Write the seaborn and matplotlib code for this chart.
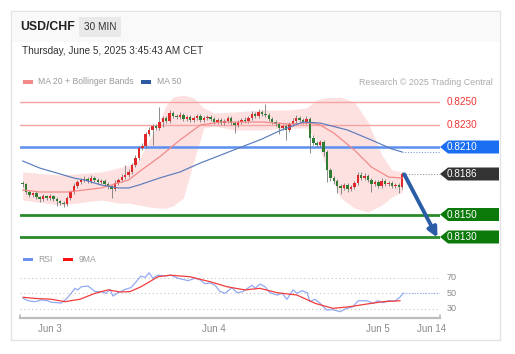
import numpy as np
import pandas as pd
import matplotlib
matplotlib.use("Agg")
import matplotlib.pyplot as plt
import seaborn as sns
from matplotlib.patches import Rectangle, Polygon
from matplotlib import transforms

# ---------------- data ----------------
first_open = 0.81780
closes = [
    0.81771, 0.81700, 0.81673, 0.81691, 0.81656, 0.81638, 0.81664, 0.81647, 0.81664, 0.81638,
    0.81620, 0.81602, 0.81593, 0.81647, 0.81700, 0.81753, 0.81789, 0.81807, 0.81816, 0.81798,
    0.81824, 0.81807, 0.81789, 0.81798, 0.81771, 0.81753, 0.81727, 0.81780, 0.81807, 0.81833,
    0.81851, 0.81878, 0.81940, 0.82002, 0.82091, 0.82109, 0.82216, 0.82251, 0.82287, 0.82269,
    0.82322, 0.82358, 0.82331, 0.82402, 0.82376, 0.82367, 0.82384, 0.82349, 0.82367, 0.82340,
    0.82358, 0.82376, 0.82340, 0.82358, 0.82367, 0.82349, 0.82322, 0.82340, 0.82313, 0.82331,
    0.82358, 0.82313, 0.82296, 0.82322, 0.82340, 0.82331, 0.82358, 0.82393, 0.82376, 0.82411,
    0.82393, 0.82384, 0.82349, 0.82322, 0.82304, 0.82269, 0.82287, 0.82251, 0.82304, 0.82331,
    0.82358, 0.82340, 0.82322, 0.82349, 0.82180, 0.82136, 0.82118, 0.82144, 0.82056, 0.81896,
    0.81824, 0.81798, 0.81753, 0.81736, 0.81762, 0.81727, 0.81744, 0.81780, 0.81851, 0.81824,
    0.81842, 0.81807, 0.81771, 0.81789, 0.81753, 0.81798, 0.81771, 0.81780, 0.81753, 0.81762,
    0.81744, 0.81860,
]
upper_wick_pips = [
    2, 1, 2, 1, 2, 1, 2, 1, 2, 1,
    2, 1, 2, 2, 2, 3, 2, 2, 3, 2,
    3, 2, 2, 2, 2, 2, 1, 3, 2, 3,
    9, 3, 2, 3, 2, 3, 2, 3, 2, 2,
    13, 2, 2, 3, 2, 2, 3, 2, 2, 2,
    2, 2, 2, 2, 2, 2, 2, 2, 2, 2,
    2, 2, 2, 2, 2, 3, 2, 3, 2, 3,
    2, 9, 2, 2, 2, 2, 2, 2, 2, 3,
    3, 2, 2, 3, 2, 3, 2, 2, 2, 2,
    2, 2, 2, 2, 2, 2, 2, 2, 3, 3,
    3, 2, 2, 2, 2, 3, 2, 2, 2, 2,
    2, 2,
]
lower_wick_pips = [
    3, 2, 2, 2, 2, 3, 2, 2, 2, 2,
    4, 2, 3, 2, 2, 2, 2, 2, 2, 2,
    2, 2, 2, 2, 2, 3, 8, 2, 2, 2,
    2, 2, 2, 2, 2, 2, 2, 2, 13, 2,
    2, 4, 2, 2, 2, 2, 2, 2, 2, 2,
    2, 2, 2, 2, 2, 2, 2, 2, 2, 2,
    2, 2, 7, 2, 2, 2, 2, 2, 2, 2,
    2, 2, 2, 2, 2, 5, 2, 9, 2, 2,
    2, 2, 2, 2, 13, 2, 2, 2, 4, 11,
    3, 3, 6, 5, 2, 3, 2, 2, 2, 2,
    2, 2, 7, 2, 2, 2, 2, 2, 2, 2,
    5, 2,
]

ma20_x = [0, 5, 13, 23, 31, 34, 40, 46, 52, 58, 70, 78, 84, 87, 91, 97, 102, 107, 111]
ma20_v = [0.81718, 0.81700, 0.81700, 0.81736, 0.81807, 0.81878, 0.82011, 0.82162, 0.82296,
          0.82322, 0.82322, 0.82304, 0.82313, 0.82296, 0.82224, 0.82073, 0.81922, 0.81833, 0.81824]

ma50_x = [0, 5, 11, 15, 18, 23, 28, 31, 34, 40, 46, 52, 58, 64, 70, 75, 82, 87, 95, 102, 108, 111]
ma50_v = [0.81976, 0.81913, 0.81860, 0.81824, 0.81807, 0.81762, 0.81736, 0.81736, 0.81762,
          0.81824, 0.81878, 0.81958, 0.82029, 0.82100, 0.82171, 0.82242, 0.82322, 0.82313,
          0.82251, 0.82162, 0.82082, 0.82056]

bb_x = [0, 11, 23, 28, 31, 34, 37, 40, 42, 44, 47, 50, 53, 56, 62, 70, 78, 83, 86, 88,
        93, 97, 101, 105, 108, 111]
bb_upper = [0.81878, 0.81851, 0.81878, 0.81913, 0.81940, 0.81984, 0.82162, 0.82322, 0.82473,
            0.82544, 0.82562, 0.82536, 0.82447, 0.82402, 0.82411, 0.82429, 0.82429, 0.82447,
            0.82518, 0.82536, 0.82544, 0.82500, 0.82322, 0.82029, 0.81896, 0.81878]
bb_lower = [0.81629, 0.81584, 0.81629, 0.81602, 0.81602, 0.81584, 0.81567, 0.81558, 0.81558,
            0.81576, 0.81647, 0.81967, 0.82269, 0.82287, 0.82251, 0.82251, 0.82269, 0.82269,
            0.82162, 0.81984, 0.81647, 0.81558, 0.81522, 0.81584, 0.81656, 0.81700]

rsi_x = [0.1, 1.6, 3.6, 5.4, 7.4, 8.3, 10.4, 11.2, 12.7, 14.2, 15.3, 16.2, 17.1, 19.1, 20.0,
         21.2, 22.9, 24.4, 25.6, 26.4, 27.9, 30.0, 31.7, 33.2, 34.6, 35.8, 37.0, 38.1, 39.6,
         41.6, 43.4, 45.4, 48.4, 50.4, 51.9, 53.3, 54.8, 56.3, 57.7, 59.2, 61.2, 62.7, 64.4,
         67.1, 68.0, 69.4, 70.9, 72.3, 74.4, 75.9, 77.3, 79.1, 80.2, 81.7, 83.2, 84.0, 85.5,
         87.0, 88.9, 90.7, 92.8, 94.8, 96.6, 98.1, 100.7, 102.5, 103.9, 105.4, 106.9, 108.9,
         110.4, 111.3]
rsi_v = [43.2, 40.0, 38.8, 41.0, 40.0, 38.0, 37.5, 36.7, 41.9, 49.6, 56.0, 54.0, 58.0, 59.0, 56.0,
         51.7, 52.0, 49.6, 54.7, 46.0, 50.4, 54.7, 57.0, 64.6, 72.0, 70.0, 76.0, 69.0, 73.0,
         72.0, 73.0, 69.0, 66.0, 69.0, 67.0, 62.0, 63.0, 60.0, 52.0, 49.6, 57.0, 50.4, 51.7,
         60.0, 56.0, 61.6, 58.0, 50.4, 47.4, 49.6, 41.9, 54.0, 49.6, 53.0, 50.4, 38.8, 41.9,
         36.7, 28.0, 28.5, 25.9, 30.2, 32.3, 40.0, 40.0, 36.7, 40.0, 37.5, 40.0, 39.5,
         45.0, 50.0]

rsi_ma_x = [0.1, 3.6, 8.3, 12.4, 16.8, 21.2, 25.0, 28.5, 31.4, 34.6, 39.6, 43.1, 48.9, 54.8,
            59.8, 65.0, 69.4, 74.4, 80.2, 85.5, 90.7, 95.7, 100.7, 105.4, 110.4]
rsi_ma_v = [44.5, 43.0, 42.0, 38.8, 42.0, 49.6, 54.0, 51.3, 51.8, 58.0, 71.0, 73.0, 71.0, 64.6,
            58.0, 54.0, 56.0, 50.4, 47.4, 36.7, 30.2, 32.3, 35.8, 38.8, 40.0]

resistance_levels = [0.8250, 0.8230]
pivot_level = 0.8210
support_levels = [0.8150, 0.8130]
last_price = 0.8186
rsi_levels = [70, 50, 30]
tick_positions = [8, 56, 104, 119.7]
tick_labels = ["Jun 3", "Jun 4", "Jun 5", "Jun 14"]

# ---------------- style ----------------
sns.set_style("white")
plt.rcParams["font.family"] = ["Liberation Sans", "DejaVu Sans"]

W, H = 515, 354
fig = plt.figure(figsize=(W / 100, H / 100), dpi=100)
fig.patch.set_facecolor("white")


def fx(px):
    return px / W


def fy(py):
    return 1 - py / H


# card + header band (behind axes)
fig.patches.append(Rectangle((fx(11), fy(340)), fx(500) - fx(11), fy(11) - fy(340),
                             transform=fig.transFigure, facecolor="white",
                             edgecolor="#e4e4e4", lw=1, zorder=-5))
fig.patches.append(Rectangle((fx(11.6), fy(42)), fx(499.4) - fx(11.6), fy(11.6) - fy(42),
                             transform=fig.transFigure, facecolor="#f9f9f9",
                             edgecolor="none", zorder=-4))
fig.patches.append(Rectangle((fx(79), fy(37)), fx(121) - fx(79), fy(17) - fy(37),
                             transform=fig.transFigure, facecolor="#e9e9e9",
                             edgecolor="none", zorder=-3))
fig.text(fx(20), fy(27.5), "USD/CHF", fontsize=8.8, fontweight="bold", color="#222222",
         va="center", ha="left")
fig.text(fx(100), fy(27.5), "30 MIN", fontsize=7.2, color="#333333", va="center", ha="center")
fig.text(fx(22), fy(51.5), "Thursday, June 5, 2025 3:45:43 AM CET", fontsize=7.2,
         color="#333333", va="center", ha="left")

# legend top
fig.patches.append(Rectangle((fx(22.7), fy(83.5)), 10 / W, 3.5 / H, transform=fig.transFigure,
                             facecolor="#f58a8a", edgecolor="none"))
fig.text(fx(38), fy(82), "MA 20 + Bollinger Bands", fontsize=6.2, color="#9a9a9a",
         va="center", ha="left")
fig.patches.append(Rectangle((fx(140.7), fy(83.5)), 10 / W, 3.5 / H, transform=fig.transFigure,
                             facecolor="#2d5aa0", edgecolor="none"))
fig.text(fx(157), fy(82), "MA 50", fontsize=6.2, color="#9a9a9a", va="center", ha="left")
fig.text(fx(493), fy(82.5), "Research \u00a9 2025 Trading Central", fontsize=6.4,
         color="#aaaaaa", va="center", ha="right")

# ---------------- price panel ----------------
XL = ((20 - 22.6) / 3.42, (440 - 22.6) / 3.42)
PX = 11250.0  # pixels per price unit
ax = fig.add_axes([fx(20), fy(245), fx(440) - fx(20), fy(92) - fy(245)])
ax.set_zorder(2)
ax.set_facecolor("none")
ax.set_xlim(XL)
ax.set_ylim(0.8250 - 143 / PX, 0.8250 + 10 / PX)
ax.axis("off")

ax.fill_between(bb_x, bb_lower, bb_upper, color="#fde0e0", lw=0, zorder=1)

for lv in resistance_levels:
    ax.axhline(lv, color="#f7a3a3", lw=1.0, zorder=2)
ax.axhline(pivot_level, color="#5b8ff0", lw=1.8, zorder=2)
for lv in support_levels:
    ax.axhline(lv, color="#2a8a2a", lw=2.0, zorder=2)

n = len(closes)
idx = np.arange(n)
c = np.array(closes)
o = np.array([first_open] + closes[:-1])
hi = np.maximum(o, c) + np.array(upper_wick_pips) * 1e-4
lo = np.minimum(o, c) - np.array(lower_wick_pips) * 1e-4
ax.vlines(idx, lo, hi, color="#7a7a7a", lw=0.6, zorder=3)
body = np.maximum(np.abs(c - o), 0.00004)
colors = np.where(c >= o, "#e02828", "#2e7d32")
ax.bar(idx, body, bottom=np.minimum(o, c), width=0.72, color=colors, lw=0, zorder=4)

sns.lineplot(x=ma20_x, y=ma20_v, ax=ax, color="#f28a8a", lw=0.9, legend=False, zorder=5)
sns.lineplot(x=ma50_x, y=ma50_v, ax=ax, color="#5a7cbc", lw=0.85, legend=False, zorder=5)
ax.plot([ma50_x[-1], XL[1]], [ma50_v[-1]] * 2, ls=(0, (1, 1.5)), color="#7b98d6", lw=0.8,
        zorder=5)
ax.plot([n - 0.7, XL[1]], [last_price] * 2, ls=(0, (1, 1.5)), color="#9a9a9a", lw=0.8,
        zorder=5)

tr = transforms.blended_transform_factory(ax.transAxes, ax.transData)
for lv in resistance_levels:
    ax.text(1.0167, lv, f"{lv:.4f}", transform=tr, color="#f03434", fontsize=7.2,
            va="center", ha="left")


def tag(y, color):
    h = 6.5 / PX
    x0, x1, x2 = 1.0, 1.0 + 8 / 420, (499 - 20) / 420
    poly = Polygon([(x0, y), (x1, y + h), (x2, y + h), (x2, y - h), (x1, y - h)],
                   closed=True, transform=tr, facecolor=color, edgecolor="none",
                   clip_on=False, zorder=6)
    ax.add_patch(poly)
    ax.text(1.0167, y, f"{y:.4f}", transform=tr, color="white", fontsize=7.2,
            va="center", ha="left", zorder=7)


tag(pivot_level, "#1a6ef2")
tag(last_price, "#333333")
for lv in support_levels:
    tag(lv, "#0b7a0b")

ax.annotate("", xy=(121.3, support_levels[1] - 0.00005), xytext=(n - 0.4, last_price - 0.00003),
            arrowprops=dict(arrowstyle="-|>", color="#2b5ca6", lw=2.8, mutation_scale=14,
                            shrinkA=0, shrinkB=0),
            annotation_clip=False, zorder=8)

# ---------------- RSI panel ----------------
fig.patches.append(Rectangle((fx(22.7), fy(261)), 10 / W, 3.5 / H, transform=fig.transFigure,
                             facecolor="#6d8ff0", edgecolor="none"))
fig.text(fx(38), fy(259.5), "RSI", fontsize=6.2, color="#9a9a9a", va="center", ha="left")
fig.patches.append(Rectangle((fx(63), fy(261)), 10 / W, 3.5 / H, transform=fig.transFigure,
                             facecolor="#ff1010", edgecolor="none"))
fig.text(fx(79), fy(259.5), "9MA", fontsize=6.2, color="#9a9a9a", va="center", ha="left")

RS = 0.775  # pixels per RSI unit
ax2 = fig.add_axes([fx(20), fy(318), fx(440) - fx(20), fy(265) - fy(318)])
ax2.set_zorder(2)
ax2.set_xlim(XL)
y0 = 50 - 25 / RS
ax2.set_ylim(y0, 50 + 28 / RS)
ax2.set_facecolor("none")
for s in ["top", "right", "left"]:
    ax2.spines[s].set_visible(False)
ax2.spines["bottom"].set_color("#bdbdbd")
ax2.spines["bottom"].set_linewidth(1.6)
ax2.set_yticks([])
for lv in rsi_levels:
    ax2.axhline(lv, ls=(0, (1, 2.5)), color="#c4c4c4", lw=0.8, zorder=1)
    ax2.text(1.0167, lv, f"{lv}", transform=ax2.get_yaxis_transform(), color="#8a8a8a",
             fontsize=6.5, va="center", ha="left")
sns.lineplot(x=rsi_x, y=rsi_v, ax=ax2, color="#93aaf2", lw=0.9, legend=False, zorder=3)
sns.lineplot(x=rsi_ma_x, y=rsi_ma_v, ax=ax2, color="#f23c3c", lw=0.9, legend=False, zorder=4)
ax2.plot([rsi_x[-1], XL[1]], [rsi_v[-1]] * 2, ls=(0, (1, 1.5)), color="#93aaf2", lw=0.8,
         zorder=3)
for xe in XL:
    ax2.plot([xe, xe], [y0, y0 + 3 / RS], color="#bdbdbd", lw=1.2, clip_on=False, zorder=5)
ax2.set_xticks(tick_positions)
ax2.set_xticklabels(tick_labels)
ax2.tick_params(axis="x", length=0, pad=4.5, labelsize=7, labelcolor="#8a8a8a")
ax2.set_xlabel("")
ax2.set_ylabel("")

fig.savefig("out.png", dpi=100, facecolor="white")
